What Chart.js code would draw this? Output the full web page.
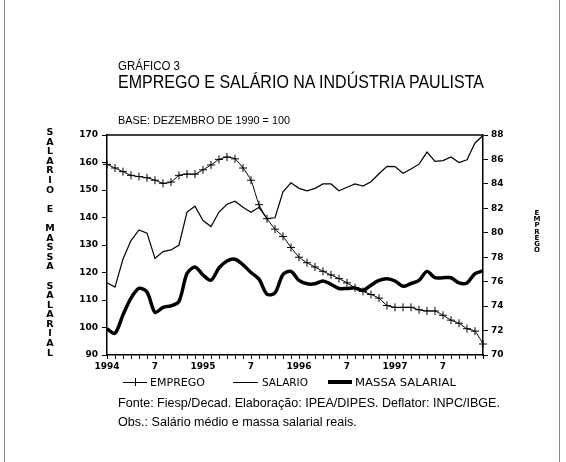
<!DOCTYPE html>
<html>
<head>
<meta charset="utf-8">
<script src="https://cdn.jsdelivr.net/npm/chart.js@4.4.1/dist/chart.umd.min.js"></script>
<style>
  html, body { margin: 0; padding: 0; background: #fff; }
  #page { position: relative; width: 566px; height: 462px; overflow: hidden; background: #fff; }
  #frame { position: absolute; left: 4px; top: 0; width: 556px; height: 462px;
           border-left: 1px solid #888; border-right: 1px solid #888; box-sizing: border-box; }
  #page canvas { position: absolute; left: 0; top: 0; }
  .txt { position: absolute; white-space: nowrap; color: #000; line-height: 1;
         font-family: "Liberation Sans", Arial, sans-serif; transform-origin: 0 0; }
  .vert { position: absolute; white-space: pre; color: #000; text-align: center;
          font-family: "DejaVu Sans", sans-serif; font-weight: bold; }
  .leg { position: absolute; white-space: nowrap; color: #000; line-height: 1;
         font-family: "DejaVu Sans", sans-serif; font-size: 10px; transform-origin: 0 0; }
  .sw { position: absolute; background: #000; }
</style>
</head>
<body>
<div id="page">
  <div id="frame"></div>
  <canvas id="chart" width="566" height="462"></canvas>
  <div class="txt" id="t1" style="left:118px; top:60px; font-size:12.5px;">GRÁFICO 3</div>
  <div class="txt" id="t2" style="left:118px; top:72.5px; font-size:18.5px;">EMPREGO E SALÁRIO NA INDÚSTRIA PAULISTA</div>
  <div class="txt" id="t3" style="left:118px; top:115px; font-size:11.5px;">BASE: DEZEMBRO DE 1990 = 100</div>
  <div class="txt" id="f1" style="left:118px; top:397px; font-size:12.5px;">Fonte: Fiesp/Decad. Elaboração: IPEA/DIPES. Deflator: INPC/IBGE.</div>
  <div class="txt" id="f2" style="left:118px; top:416px; font-size:12.5px;">Obs.: Salário médio e massa salarial reais.</div>
  <div class="vert" id="yl" style="left:41px; top:127px; width:18px; font-size:9.5px; line-height:9.6px;"></div>
  <div class="vert" id="yr" style="left:531px; top:210px; width:12px; font-size:7px; line-height:6.2px;"></div>
  <div id="legend"></div>
</div>
<script>
// Meses jan/1994 a dez/1997
const YEARS = ["1994", "1995", "1996", "1997"];
const X_TICK_LABELS = ["1994", "7", "1995", "7", "1996", "7", "1997", "7"];

// Emprego (eixo direito, 70-88)
const EMPREGO = [
  85.6, 85.3, 85.0, 84.7, 84.6, 84.5, 84.3, 84.05, 84.15, 84.7, 84.8, 84.8,
  85.15, 85.55, 86.0, 86.2, 86.05, 85.3, 84.3, 82.3, 81.15, 80.3, 79.7, 78.8,
  78.0, 77.55, 77.2, 76.85, 76.55, 76.25, 75.9, 75.5, 75.2, 74.95, 74.65, 74.05,
  73.9, 73.9, 73.9, 73.7, 73.6, 73.6, 73.25, 72.85, 72.6, 72.15, 71.95, 70.9,
];
// Salario medio real (eixo esquerdo, 90-170)
const SALARIO = [
  116.3, 114.7, 124.9, 131.6, 135.5, 134.3, 125.1, 127.6, 128.2, 130.0, 142.0, 144.1,
  138.9, 136.7, 142.0, 144.8, 145.9, 143.7, 141.9, 143.7, 139.6, 139.9, 149.3, 152.6,
  150.6, 149.7, 150.6, 152.2, 152.2, 149.7, 151.0, 152.2, 151.4, 153.0, 155.9, 158.6,
  158.5, 156.1, 157.6, 159.4, 163.8, 160.4, 160.7, 162.0, 160.0, 161.0, 167.1, 169.8,
];
// Massa salarial real (eixo esquerdo)
const MASSA = [
  99.5, 97.9, 104.6, 110.7, 114.2, 112.9, 105.5, 107.3, 107.9, 109.5, 119.6, 122.0,
  119.1, 117.2, 121.7, 124.2, 124.8, 122.8, 120.0, 117.6, 112.1, 112.6, 119.3, 120.4,
  117.1, 115.9, 115.9, 116.9, 115.7, 114.2, 114.2, 114.4, 113.5, 115.4, 117.1, 117.7,
  116.9, 115.0, 116.0, 117.1, 120.4, 118.1, 118.1, 118.1, 116.2, 116.2, 119.6, 120.6,
];

const SERIES_NAMES = ["EMPREGO", "SALARIO", "MASSA SALARIAL"];
const LEFT_TITLE = "SALARIO E MASSA SALARIAL";
const RIGHT_TITLE = "EMPREGO";

const monthLabels = [];
YEARS.forEach((y) => {
  for (let m = 1; m <= 12; m++) monthLabels.push(y + "-" + m);
});

// titulos verticais (letras empilhadas)
document.getElementById("yl").textContent = LEFT_TITLE.split("").join("\n");
document.getElementById("yr").textContent = RIGHT_TITLE.split("").join("\n");

// ajusta largura dos textos (fonte estreita)
function fitWidth(el, w) {
  const real = el.getBoundingClientRect().width;
  const k = w / real;
  el.style.transform = "scaleX(" + k + ")";
  return k;
}
fitWidth(document.getElementById("t1"), 62);
fitWidth(document.getElementById("t2"), 366);
fitWidth(document.getElementById("t3"), 172);
// as duas linhas da fonte usam a mesma escala
const kf = fitWidth(document.getElementById("f1"), 382);
document.getElementById("f2").style.transform = "scaleX(" + kf + ")";

// legenda (amostra de linha + texto)
const legendBox = document.getElementById("legend");
const LEG_ITEMS = [
  { sx: 123, sw: 24, lw: 1, cross: true, tx: 150, tw: 55 },
  { sx: 233, sw: 25, lw: 1, cross: false, tx: 262, tw: 46 },
  { sx: 328, sw: 24, lw: 4, cross: false, tx: 355, tw: 101 },
];
const LEG_Y = 382;
LEG_ITEMS.forEach((it, i) => {
  const line = document.createElement("div");
  line.className = "sw";
  line.style.cssText = `left:${it.sx}px; top:${LEG_Y - it.lw / 2}px; width:${it.sw}px; height:${it.lw}px;`;
  legendBox.appendChild(line);
  if (it.cross) {
    const v = document.createElement("div");
    v.className = "sw";
    v.style.cssText = `left:${it.sx + it.sw / 2 - 0.5}px; top:${LEG_Y - 4}px; width:1px; height:8px;`;
    legendBox.appendChild(v);
  }
  const t = document.createElement("div");
  t.className = "leg";
  t.textContent = SERIES_NAMES[i];
  t.style.left = it.tx + "px";
  t.style.top = LEG_Y - 4.5 + "px";
  legendBox.appendChild(t);
  fitWidth(t, it.tw);
});

const AXIS_FONT = { family: "DejaVu Sans", size: 9, weight: "bold" };

// linha superior da moldura
const topLine = {
  id: "topLine",
  afterDraw(chart) {
    const { ctx, chartArea } = chart;
    ctx.save();
    ctx.strokeStyle = "#000";
    ctx.lineWidth = 1.5;
    ctx.beginPath();
    ctx.moveTo(chartArea.left, chartArea.top);
    ctx.lineTo(chartArea.right, chartArea.top);
    ctx.stroke();
    ctx.restore();
  },
};

const ctx = document.getElementById("chart").getContext("2d");
new Chart(ctx, {
  type: "line",
  data: {
    labels: monthLabels,
    datasets: [
      {
        label: SERIES_NAMES[0],
        data: EMPREGO,
        yAxisID: "yR",
        borderColor: "#000",
        borderWidth: 1,
        pointStyle: "cross",
        pointRadius: 4,
        pointBorderWidth: 1,
        pointBorderColor: "#000",
        tension: 0.2,
      },
      {
        label: SERIES_NAMES[1],
        data: SALARIO,
        yAxisID: "y",
        borderColor: "#000",
        borderWidth: 1.2,
        pointRadius: 0,
        tension: 0,
      },
      {
        label: SERIES_NAMES[2],
        data: MASSA,
        yAxisID: "y",
        borderColor: "#000",
        borderWidth: 3.5,
        pointRadius: 0,
        tension: 0.3,
      },
    ],
  },
  options: {
    responsive: false,
    animation: false,
    devicePixelRatio: 1,
    layout: { padding: { left: 57, right: 38, top: 135, bottom: 87 } },
    plugins: {
      tooltip: { enabled: false },
      legend: { display: false },
    },
    scales: {
      x: {
        type: "category",
        offset: false,
        grid: { drawOnChartArea: false, offset: false, tickLength: 4, color: "#000" },
        border: { color: "#000", width: 1.5 },
        ticks: {
          autoSkip: false,
          maxRotation: 0,
          padding: 2,
          color: "#000",
          font: AXIS_FONT,
          callback: (v, i) => (i % 6 === 0 ? X_TICK_LABELS[i / 6] : ""),
        },
        afterFit: (s) => { s.height = 20; },
      },
      y: {
        position: "left",
        min: 90,
        max: 170,
        ticks: { stepSize: 10, padding: 4, color: "#000", font: AXIS_FONT },
        grid: { drawOnChartArea: false, tickLength: 5, color: "#000" },
        border: { color: "#000", width: 1.5 },
        afterFit: (s) => { s.width = 50; },
      },
      yR: {
        position: "right",
        min: 70,
        max: 88,
        ticks: { stepSize: 2, padding: 3, color: "#000", font: AXIS_FONT },
        grid: { drawOnChartArea: false, tickLength: 5, color: "#000" },
        border: { color: "#000", width: 1.5 },
        afterFit: (s) => { s.width = 45; },
      },
    },
  },
  plugins: [topLine],
});
</script>
</body>
</html>
